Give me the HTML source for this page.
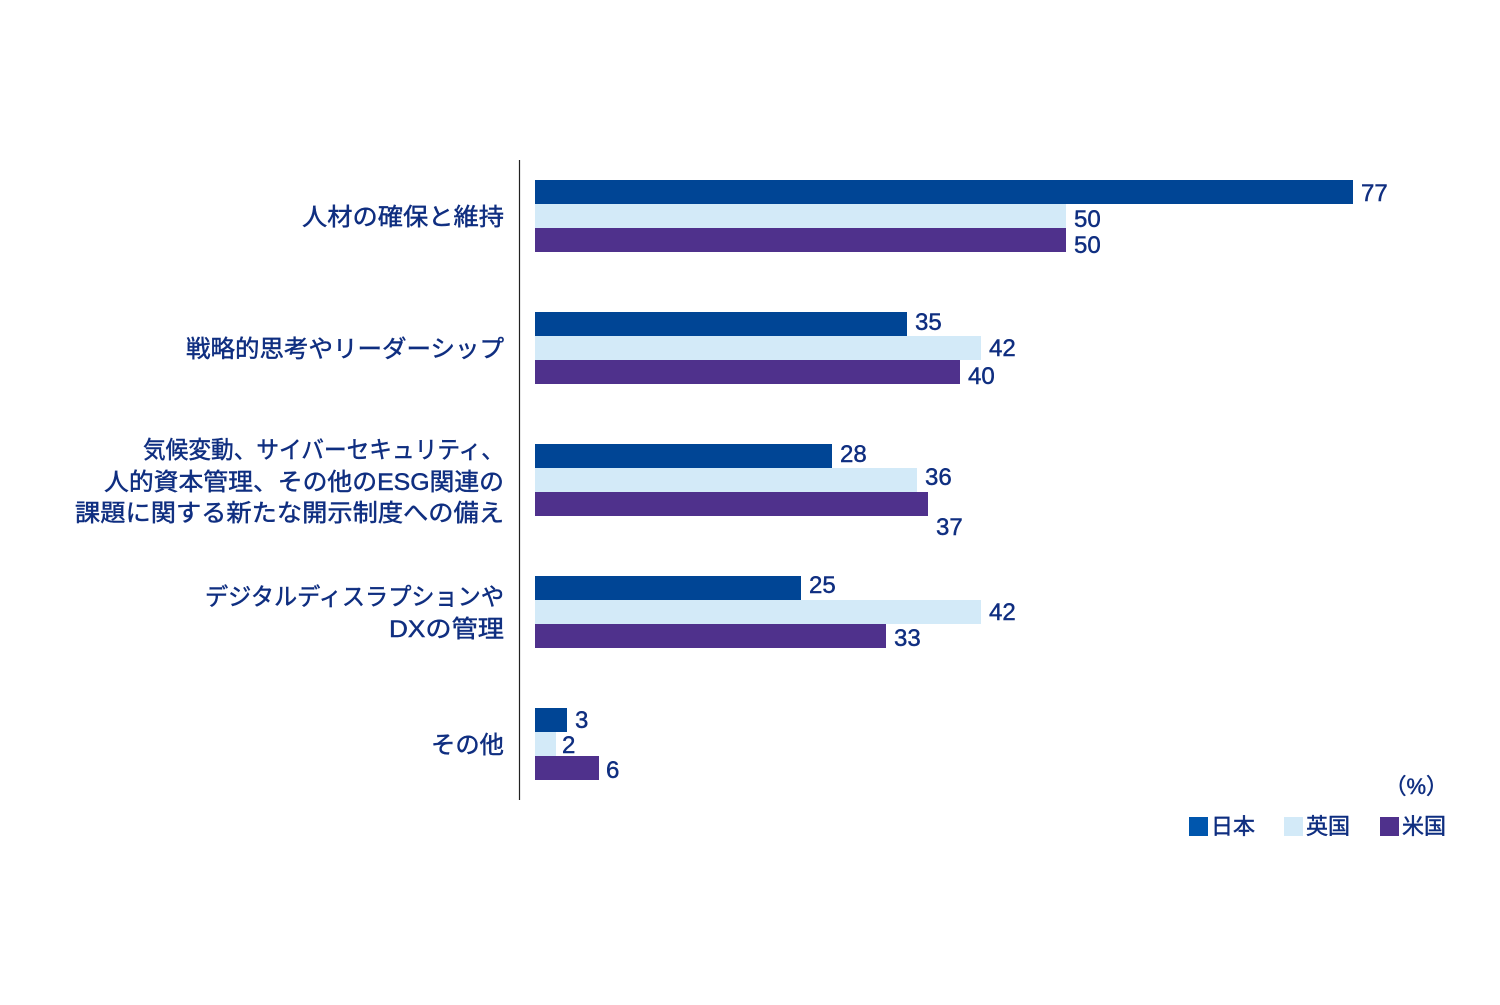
<!DOCTYPE html>
<html><head><meta charset="utf-8"><style>
html,body{margin:0;padding:0;background:#fff}
svg text{font-family:"Liberation Sans","Noto Sans CJK JP",sans-serif;fill:#0f2e80;stroke:#0f2e80;stroke-width:0.45}
</style></head><body>
<svg width="1500" height="1000" viewBox="0 0 1500 1000" xmlns="http://www.w3.org/2000/svg">
<line x1="519.5" y1="160" x2="519.5" y2="800" stroke="#222" stroke-width="1.2"/>
<g font-size="24">
<text x="302" y="225" textLength="202" lengthAdjust="spacingAndGlyphs">人材の確保と維持</text>
<text x="186" y="357" textLength="318" lengthAdjust="spacingAndGlyphs">戦略的思考やリーダーシップ</text>
<text x="143" y="458" textLength="361" lengthAdjust="spacingAndGlyphs">気候変動、サイバーセキュリティ、</text>
<text x="104" y="490" textLength="400" lengthAdjust="spacingAndGlyphs">人的資本管理、その他のESG関連の</text>
<text x="75" y="521" textLength="429" lengthAdjust="spacingAndGlyphs">課題に関する新たな開示制度への備え</text>
<text x="205" y="605" textLength="299" lengthAdjust="spacingAndGlyphs">デジタルディスラプションや</text>
<text x="389" y="637" textLength="115" lengthAdjust="spacingAndGlyphs">DXの管理</text>
<text x="431" y="753" textLength="73" lengthAdjust="spacingAndGlyphs">その他</text>
</g>
<g>
<rect x="535" y="180" width="818" height="24" fill="#004595"/>
<rect x="535" y="204" width="531" height="24" fill="#d3eaf8"/>
<rect x="535" y="228" width="531" height="24" fill="#4f318c"/>
<rect x="535" y="312" width="372" height="24" fill="#004595"/>
<rect x="535" y="336" width="446" height="24" fill="#d3eaf8"/>
<rect x="535" y="360" width="425" height="24" fill="#4f318c"/>
<rect x="535" y="444" width="297" height="24" fill="#004595"/>
<rect x="535" y="468" width="382" height="24" fill="#d3eaf8"/>
<rect x="535" y="492" width="393" height="24" fill="#4f318c"/>
<rect x="535" y="576" width="266" height="24" fill="#004595"/>
<rect x="535" y="600" width="446" height="24" fill="#d3eaf8"/>
<rect x="535" y="624" width="351" height="24" fill="#4f318c"/>
<rect x="535" y="708" width="32" height="24" fill="#004595"/>
<rect x="535" y="732" width="21" height="24" fill="#d3eaf8"/>
<rect x="535" y="756" width="64" height="24" fill="#4f318c"/>
</g>
<g font-size="24">
<text x="1361" y="201">77</text>
<text x="1074" y="227">50</text>
<text x="1074" y="253">50</text>
<text x="915" y="330">35</text>
<text x="989" y="356">42</text>
<text x="968" y="384">40</text>
<text x="840" y="462">28</text>
<text x="925" y="485">36</text>
<text x="936" y="535">37</text>
<text x="809" y="593">25</text>
<text x="989" y="620">42</text>
<text x="894" y="646">33</text>
<text x="575" y="728">3</text>
<text x="562" y="753">2</text>
<text x="606" y="778">6</text>
<text x="1448" y="794" text-anchor="end" font-size="22">（%）</text>
</g>
<rect x="1189" y="817" width="19" height="19" fill="#0056ad"/>
<text x="1211" y="834" font-size="22">日本</text>
<rect x="1284" y="817" width="19" height="19" fill="#d3eaf8"/>
<text x="1306" y="834" font-size="22">英国</text>
<rect x="1380" y="817" width="19" height="19" fill="#4f318c"/>
<text x="1402" y="834" font-size="22">米国</text>
</svg>
</body></html>
